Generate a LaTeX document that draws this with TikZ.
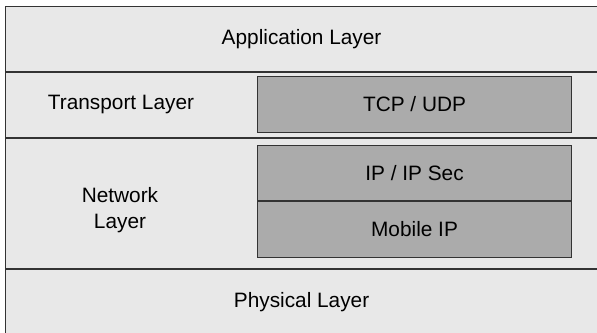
\documentclass[tikz,border=0pt]{standalone}
\usepackage{fontspec}
\setmainfont{Liberation Sans}
\usetikzlibrary{positioning}

\begin{document}
\begin{tikzpicture}[x=0.025cm, y=-0.025cm, node distance=0pt,
  every node/.style={font=\fontsize{14.8}{19}\selectfont},
  layer/.style={draw=black!80, fill=black!9, line width=0.7pt, inner sep=0pt,
    minimum width=14.8cm},
  proto/.style={draw=black!80, fill=black!33, line width=0.7pt, inner sep=0pt,
    minimum width=7.85cm}]
\useasboundingbox (0,0) rectangle (597,332);
% stack of layers
\node[layer, minimum height=1.625cm, anchor=north west] (app) at (5,6) {Application Layer};
\node[layer, minimum height=1.625cm, below=of app] (trans) {};
\node[layer, minimum height=3.25cm, below=of trans] (net) {};
\node[layer, minimum height=1.625cm, below=of net] (phys) {Physical Layer};
% protocols
\node[proto, minimum height=1.4cm, anchor=north west] (tcp) at (257,76) {TCP / UDP};
\node[proto, minimum height=1.375cm, anchor=north west] (ipsec) at (257,145) {IP / IP Sec};
\node[proto, minimum height=1.4cm, below=of ipsec] (mobip) {Mobile IP};
% layer names
\node (translbl) at (121,104) {Transport Layer};
\node[align=center] (netlbl) at (120,210) {Network\\Layer};
\end{tikzpicture}
\end{document}
